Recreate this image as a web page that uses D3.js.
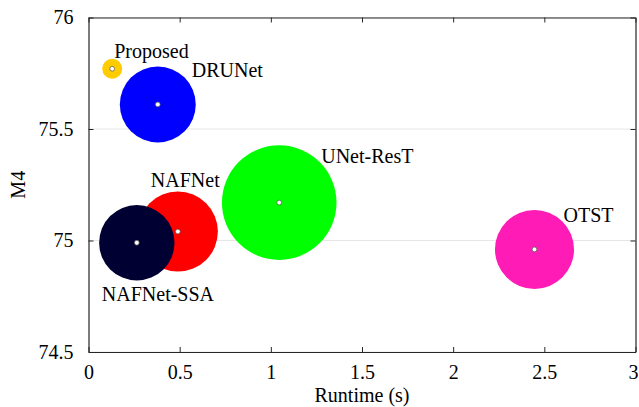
<!DOCTYPE html>
<html>
<head>
<meta charset="utf-8">
<script src="https://cdn.jsdelivr.net/npm/d3@7"></script>
</head>
<body style="margin:0">
<svg id="chart" width="639" height="407"></svg>
<script>
// methods, runtime (s), M4 score and a relative complexity value for bubble size
var methods = [ "NAFNet", "NAFNet-SSA", "DRUNet", "UNet-ResT", "OTST", "Proposed" ];
var runtime = [ 0.49, 0.265, 0.38, 1.046, 2.446, 0.13 ];
var m4 = [ 75.04, 74.99, 75.61, 75.17, 74.96, 75.77 ];
var complexity = [ 16.0, 14.2, 14.4, 32.8, 15.6, 1.0 ];
var xTicks = [ 0, 0.5, 1, 1.5, 2, 2.5, 3 ];
var yTicks = [ 74.5, 75, 75.5, 76 ];

(function () {
    var colors = {
        "NAFNet": "#ff0000",
        "NAFNet-SSA": "#000033",
        "DRUNet": "#0000ff",
        "UNet-ResT": "#00ff00",
        "OTST": "#ff1cb6",
        "Proposed": "#ffcc00"
    };
    // label offset from the bubble centre, in pixels
    var labelPos = {
        "NAFNet": [ -27, -45 ],
        "NAFNet-SSA": [ -35, 58 ],
        "DRUNet": [ 34, -27 ],
        "UNet-ResT": [ 42, -40 ],
        "OTST": [ 29, -27 ],
        "Proposed": [ 2, -11 ]
    };
    var FONT = "Liberation Serif";

    var margin = { left: 88.5, right: 3.5, top: 17.5, bottom: 55 };
    var svg = d3.select( "#chart" );
    var W = +svg.attr( "width" ), H = +svg.attr( "height" );
    var w = W - margin.left - margin.right;
    var h = H - margin.top - margin.bottom;

    var x = d3.scaleLinear().domain( [ 0, 3 ] ).range( [ 0, w ] );
    var y = d3.scaleLinear().domain( [ 74.5, 76 ] ).range( [ h, 0 ] );
    var r = d3.scaleSqrt().domain( [ 0, d3.max( complexity ) ] ).range( [ 0, 57.3 ] );
    var fmt = d3.format( "" );

    function label( sel ) {
        sel.attr( "font-family", FONT )
            .style( "font-family", FONT )
            .style( "font-size", "20px" )
            .attr( "fill", "#000" );
    }

    var g = svg.append( "g" )
        .attr( "transform", "translate(" + margin.left + "," + margin.top + ")" );

    // horizontal grid
    g.append( "g" ).selectAll( "line" )
        .data( yTicks )
        .enter().append( "line" )
        .attr( "x1", 0 ).attr( "x2", w )
        .attr( "y1", function ( d ) { return y( d ) } )
        .attr( "y2", function ( d ) { return y( d ) } )
        .attr( "stroke", "#e6e6e6" )
        .attr( "stroke-width", 1 );

    var data = methods.map( function ( m, i ) {
        return { name: m, x: runtime[ i ], y: m4[ i ], s: complexity[ i ] };
    });

    var pts = g.append( "g" ).selectAll( "g" )
        .data( data )
        .enter().append( "g" )
        .attr( "transform", function ( d ) {
            return "translate(" + x( d.x ) + "," + y( d.y ) + ")";
        });
    pts.append( "circle" )
        .attr( "r", function ( d ) { return r( d.s ) } )
        .attr( "fill", function ( d ) { return colors[ d.name ] } );
    pts.append( "circle" )
        .attr( "r", 2.4 )
        .attr( "fill", "#fff" )
        .attr( "stroke", "#555" )
        .attr( "stroke-width", 0.7 );
    pts.append( "text" )
        .attr( "x", function ( d ) { return labelPos[ d.name ][ 0 ] } )
        .attr( "y", function ( d ) { return labelPos[ d.name ][ 1 ] } )
        .call( label )
        .text( function ( d ) { return d.name } );

    // axes, ticks pointing inward, box on all sides
    var axisColor = "#262626";
    function styleAxis( sel ) {
        sel.attr( "font-family", FONT );
        sel.select( ".domain" ).attr( "stroke", axisColor ).attr( "stroke-width", 1.2 );
        sel.selectAll( ".tick line" ).attr( "stroke", axisColor ).attr( "stroke-width", 1 );
        sel.selectAll( ".tick text" ).call( label );
    }

    var xAxis = g.append( "g" )
        .attr( "transform", "translate(0," + h + ")" )
        .call( d3.axisBottom( x ).tickValues( xTicks ).tickSizeInner( -5 ).tickSizeOuter( 0 ).tickPadding( 13 )
            .tickFormat( fmt ) )
        .call( styleAxis );
    // keep the last label inside the window
    xAxis.selectAll( ".tick text" ).filter( function ( d ) { return d === 3 } ).attr( "dx", -2.5 );

    g.append( "g" )
        .call( d3.axisTop( x ).tickValues( xTicks ).tickSizeInner( -5 ).tickSizeOuter( 0 ).tickFormat( "" ) )
        .call( styleAxis );
    g.append( "g" )
        .call( d3.axisLeft( y ).tickValues( yTicks ).tickSizeInner( -5 ).tickSizeOuter( 0 ).tickPadding( 15 )
            .tickFormat( fmt ) )
        .call( styleAxis );
    g.append( "g" )
        .attr( "transform", "translate(" + w + ",0)" )
        .call( d3.axisRight( y ).tickValues( yTicks ).tickSizeInner( -5 ).tickSizeOuter( 0 ).tickFormat( "" ) )
        .call( styleAxis );

    // axis titles
    svg.append( "text" )
        .attr( "x", margin.left + w / 2 )
        .attr( "y", 402 )
        .attr( "text-anchor", "middle" )
        .call( label )
        .text( "Runtime (s)" );
    svg.append( "text" )
        .attr( "transform", "translate(25," + ( margin.top + h / 2 ) + ") rotate(-90)" )
        .attr( "text-anchor", "middle" )
        .call( label )
        .text( "M4" );
})();
</script>
</body>
</html>
